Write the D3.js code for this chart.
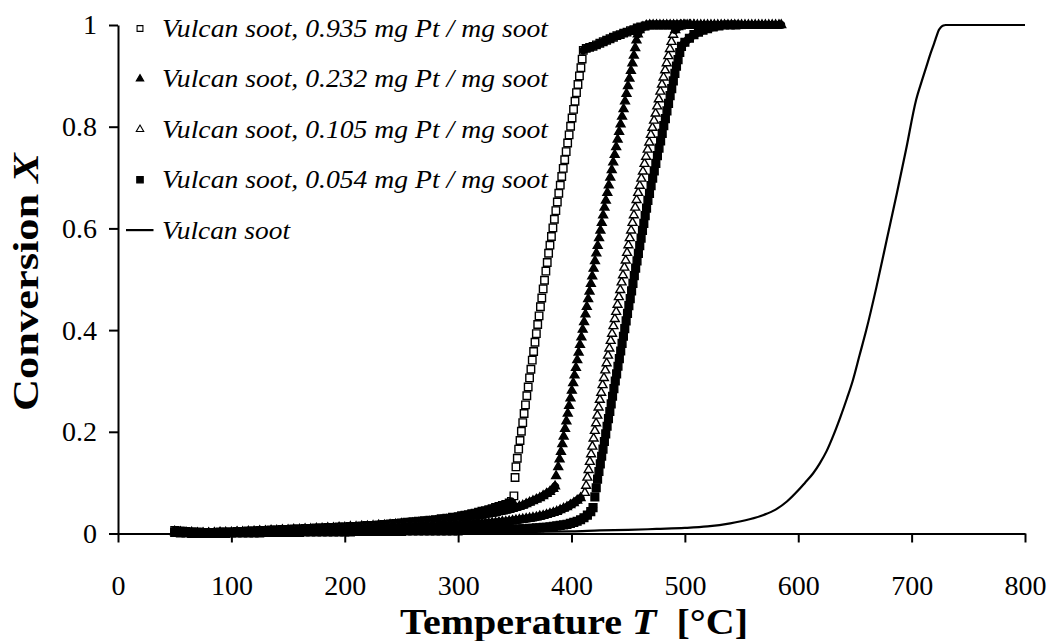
<!DOCTYPE html>
<html>
<head>
<meta charset="utf-8">
<script src="https://cdn.jsdelivr.net/npm/d3@7"></script>
<style>
  body { margin: 0; background: #fff; }
  svg text { font-family: "Liberation Serif", "Times New Roman", serif; fill: #000; }
</style>
</head>
<body>
<div id="chart"></div>
<script>
/*
 * Data: [T in degC, conversion X]
 */

// Vulcan soot, 0.935 mg Pt / mg soot (open squares)
var pt935 = [[50,.006],[55,.005],[60,.004],[65,.003],[70,.003],[75,.002],[80,.002],[85,.002],[90,.003],[95,.003],
  [100,.003],[105,.004],[110,.004],[115,.005],[120,.005],[125,.006],[130,.006],[135,.007],[140,.007],[145,.008],
  [150,.008],[155,.009],[160,.009],[165,.010],[170,.010],[175,.011],[180,.011],[185,.012],[190,.012],[195,.013],
  [200,.013],[205,.014],[210,.014],[215,.015],[220,.016],[225,.016],[230,.017],[235,.018],[240,.019],[245,.020],
  [250,.021],[255,.022],[260,.023],[265,.024],[270,.025],[275,.026],[280,.027],[285,.029],[290,.030],[295,.032],
  [300,.033],[303,.035],[306,.036],[309,.037],[312,.039],[315,.040],[318,.042],[321,.044],[324,.045],[327,.047],
  [330,.049],[333,.051],[336,.053],[339,.055],[342,.057],[345,.060],[347,.063],
  [349.2,.074],[350.2,.110],[351.0,.131],[352.2,.148],[353.4,.166],[354.6,.183],[355.8,.201],[357.0,.218],[358.2,.236],
  [359.4,.253],[360.6,.271],[361.8,.288],[363.0,.306],[364.2,.323],[365.4,.341],[366.6,.358],[367.8,.376],[369.0,.393],
  [370.2,.411],[371.4,.428],[372.6,.446],[373.8,.463],[375.0,.481],[376.2,.498],[377.4,.516],[378.6,.533],[379.8,.551],
  [381.0,.567],[382.3,.584],[383.6,.601],[384.9,.618],[386.2,.635],[387.5,.652],[388.8,.669],[390.1,.685],[391.4,.702],
  [392.7,.718],[394.0,.735],[395.3,.751],[396.6,.768],[397.9,.784],[399.2,.801],[400.5,.817],[401.8,.834],[403.1,.850],
  [404.4,.867],[405.7,.883],[407.0,.900],[408.3,.916],[409.4,.933],[410.4,.950],
  [413,.954],[416,.956],[419,.958],[422,.961],[425,.964],[428,.967],[431,.970],[434,.973],[437,.976],[440,.979],
  [443,.981],[446,.984],[449,.986],[452,.989],[455,.991],[458,.994],[461,.996],[465,.998],[469,1],[473,1],
  [477,1],[481,1],[485,1],[489,1],[493,1],[497,1]];

// Vulcan soot, 0.232 mg Pt / mg soot (filled triangles)
var pt232 = [[50,.004],[55,.003],[60,.002],[65,.002],[70,.001],[75,.001],[80,.001],[85,.001],[90,.002],[95,.002],
  [100,.002],[105,.003],[110,.003],[115,.004],[120,.004],[125,.005],[130,.005],[135,.006],[140,.006],[145,.007],
  [150,.007],[155,.008],[160,.008],[165,.009],[170,.009],[175,.010],[180,.010],[185,.011],[190,.011],[195,.012],
  [200,.012],[205,.013],[210,.013],[215,.014],[220,.014],[225,.015],[230,.016],[235,.016],[240,.017],[245,.018],
  [250,.019],[255,.019],[260,.020],[265,.021],[270,.022],[275,.023],[280,.024],[285,.025],[290,.027],[295,.028],
  [300,.029],[303,.030],[306,.031],[309,.032],[312,.033],[315,.034],[318,.035],[321,.036],[324,.038],[327,.039],
  [330,.040],[333,.041],[336,.043],[339,.044],[342,.046],[345,.047],[348,.049],[351,.051],[354,.053],[357,.055],
  [360,.058],[363,.061],[366,.064],[369,.067],[372,.070],[375,.074],[378,.078],[381,.082],[384,.088],[385.5,.093],
  [386.4,.113],[388.3,.131],[389.5,.146],[390.7,.161],[391.9,.176],[393.1,.191],[394.3,.206],[395.5,.221],[396.7,.236],
  [397.9,.251],[399.1,.266],[400.3,.281],[401.5,.296],[402.7,.311],[403.9,.326],[405.1,.341],[406.3,.356],[407.5,.371],
  [408.7,.386],[409.9,.401],[411.1,.416],[412.3,.431],[413.5,.446],[414.7,.461],[415.9,.476],[417.1,.491],[418.3,.506],
  [419.5,.521],[420.7,.536],[421.9,.551],[423.1,.566],[424.3,.581],[425.5,.596],[426.7,.611],[427.9,.626],[429.1,.641],
  [430.3,.655],[431.6,.670],[432.9,.685],[434.2,.700],[435.5,.715],[436.8,.730],[438.1,.745],[439.4,.760],[440.7,.775],
  [442.0,.790],[443.3,.805],[444.6,.820],[445.9,.835],[447.2,.850],[448.5,.865],[449.8,.880],[451.1,.895],[452.4,.910],
  [453.7,.925],[455.0,.940],[456.2,.955],[457.3,.970],[458.5,.982],[460,.990],[463,.996],[466,.999],
  [469,1],[472,1],[475,1],[478,1],[481,1],[484,1],[487,1],[490,1],[493,1],[496,1],[499,1],[502,1],[505,1],
  [508,1],[511,1],[514,1],[517,1],[520,1],[523,1],[526,1],[529,1],[532,1],[535,1],[538,1],[541,1],[544,1],
  [547,1],[550,1],[553,1],[556,1],[559,1],[562,1],[565,1],[568,1],[571,1],[574,1],[577,1],[580,1],[583,1],[585,1]];

// Vulcan soot, 0.105 mg Pt / mg soot (open triangles)
var pt105 = [[50,.003],[55,.002],[60,.001],[65,.001],[70,.000],[75,.000],[80,.000],[85,.001],[90,.001],[95,.001],
  [100,.001],[105,.002],[110,.002],[115,.002],[120,.003],[125,.003],[130,.003],[135,.004],[140,.004],[145,.004],
  [150,.005],[155,.005],[160,.005],[165,.006],[170,.006],[175,.006],[180,.007],[185,.007],[190,.007],[195,.008],
  [200,.008],[205,.008],[210,.009],[215,.009],[220,.009],[225,.010],[230,.010],[235,.010],[240,.011],[245,.011],
  [250,.011],[255,.012],[260,.012],[265,.013],[270,.013],[275,.014],[280,.014],[285,.015],[290,.015],[295,.016],
  [300,.016],[303,.016],[306,.017],[309,.017],[312,.018],[315,.018],[318,.019],[321,.019],[324,.020],[327,.020],
  [330,.021],[333,.021],[336,.022],[339,.023],[342,.023],[345,.024],[348,.025],[351,.026],[354,.027],[357,.028],
  [360,.029],[363,.030],[366,.031],[369,.032],[372,.034],[375,.035],[378,.037],[381,.039],[384,.041],[387,.043],
  [390,.046],[393,.049],[396,.052],[399,.056],[402,.060],[405,.065],[408,.070],
  [411.8,.080],[412.9,.094],[414.0,.110],[415.1,.125],[416.2,.141],[417.3,.156],[418.4,.171],[419.5,.187],[420.6,.202],
  [421.7,.217],[422.8,.232],[423.9,.248],[425.0,.263],[426.2,.277],[427.4,.292],[428.6,.306],[429.8,.321],[431.0,.335],
  [432.2,.350],[433.4,.364],[434.6,.379],[435.8,.393],[437.0,.408],[438.2,.422],[439.4,.436],[440.6,.450],[441.8,.465],
  [443.0,.479],[444.2,.494],[445.4,.508],[446.6,.523],[447.8,.537],[449.0,.552],[450.2,.567],[451.4,.581],[452.6,.596],
  [453.8,.611],[455.0,.626],[456.2,.641],[457.4,.656],[458.8,.670],[460.2,.684],[461.6,.698],[463.0,.712],[464.4,.727],
  [465.8,.741],[467.2,.755],[468.6,.769],[470.0,.784],[471.4,.798],[472.8,.812],[474.2,.826],[475.6,.840],[477.0,.854],
  [478.4,.869],[479.8,.883],[481.2,.897],[482.6,.911],[484.0,.925],[485.4,.939],[486.8,.953],[488.2,.967],[489.7,.981],
  [491.5,.990],[494,.996],[497,.999],[500,1],[504,1],[508,1]];

// Vulcan soot, 0.054 mg Pt / mg soot (filled squares)
var pt054 = [[50,.002],[55,.001],[60,.001],[65,.000],[70,.000],[75,.000],[80,.000],[85,.000],[90,.000],[95,.000],
  [100,.001],[105,.001],[110,.001],[115,.001],[120,.001],[125,.001],[130,.002],[135,.002],[140,.002],[145,.002],
  [150,.002],[155,.002],[160,.002],[165,.003],[170,.003],[175,.003],[180,.003],[185,.003],[190,.003],[195,.003],
  [200,.003],[205,.003],[210,.004],[215,.004],[220,.004],[225,.004],[230,.004],[235,.004],[240,.004],[245,.004],
  [250,.004],[255,.005],[260,.005],[265,.005],[270,.005],[275,.005],[280,.005],[285,.005],[290,.005],[295,.005],
  [300,.005],[303,.006],[306,.006],[309,.006],[312,.006],[315,.006],[318,.006],[321,.006],[324,.007],[327,.007],
  [330,.007],[333,.007],[336,.007],[339,.007],[342,.008],[345,.008],[348,.008],[351,.008],[354,.009],[357,.009],
  [360,.009],[363,.010],[366,.010],[369,.011],[372,.011],[375,.012],[378,.012],[381,.013],[384,.014],[387,.015],
  [390,.016],[393,.017],[396,.018],[399,.020],[402,.022],[405,.024],[408,.027],[411,.031],[414,.036],[417,.043],[419,.051],
  [420.6,.072],[421.8,.090],[423.0,.107],[424.2,.122],[425.4,.137],[426.6,.152],[427.8,.166],[429.0,.181],[430.2,.196],
  [431.4,.211],[432.6,.226],[433.8,.240],[435.0,.255],[436.2,.270],[437.4,.285],[438.6,.300],[439.8,.314],[441.0,.329],
  [442.2,.344],[443.4,.359],[444.6,.374],[445.8,.388],[447.0,.403],[448.2,.418],[449.4,.433],[450.6,.448],[451.8,.462],
  [453.0,.477],[454.2,.492],[455.4,.507],[456.6,.522],[457.8,.536],[459.0,.551],[460.2,.566],[461.4,.581],[462.6,.596],
  [463.8,.610],[465.0,.625],[466.2,.640],[467.4,.655],[468.8,.669],[470.2,.684],[471.6,.699],[473.0,.713],[474.4,.728],
  [475.8,.743],[477.2,.758],[478.6,.772],[480.0,.787],[481.4,.802],[482.8,.816],[484.2,.831],[485.6,.846],[487.0,.861],
  [488.4,.875],[489.8,.890],[491.2,.905],[492.6,.919],[494.0,.932],[495.5,.946],[497.0,.958],
  [500,.966],[504,.974],[508,.981],[512,.986],[516,.990],[520,.993],[525,.996],[530,.998],[535,1],[540,1],[545,1]];

// Vulcan soot, no Pt (solid line)
var sootOnly = [[50,.000],[100,.000],[150,.001],[200,.001],[250,.002],[300,.002],[350,.003],[400,.004],[425,.006],
  [450,.007],[475,.009],[500,.011],[520,.014],[540,.020],[557,.028],[570,.037],[580,.047],[590,.063],[600,.085],
  [606,.100],[613,.118],[619,.138],[625,.162],[631,.193],[637,.228],[643,.266],[648,.300],[654,.350],[660,.400],
  [669,.485],[678,.577],[687,.669],[695,.754],[704,.853],[709,.890],[713,.918],[717,.946],[720,.965],[722,.978],
  [724,.990],[726,.996],[728,.999],[730,1],[800,1]];

var xTicks = [0, 100, 200, 300, 400, 500, 600, 700, 800];
var yTicks = [0, 0.2, 0.4, 0.6, 0.8, 1];
var legendLabels = ["Vulcan soot, 0.935 mg Pt / mg soot", "Vulcan soot, 0.232 mg Pt / mg soot",
  "Vulcan soot, 0.105 mg Pt / mg soot", "Vulcan soot, 0.054 mg Pt / mg soot", "Vulcan soot"];

/*
 * Chart
 */
var svgWidth = 1048;
var svgHeight = 641;
var plotLeft = 118, plotRight = 1025, plotTop = 25, plotBottom = 533.5;

var svg = d3.select("#chart")
  .append("svg")
  .attr("width", svgWidth)
  .attr("height", svgHeight);

var x = d3.scaleLinear().domain([0, 800]).range([plotLeft, plotRight]);
var y = d3.scaleLinear().domain([0, 1]).range([plotBottom, plotTop]);

// marker styles per series
var series = [
  { data: pt935, shape: d3.symbolSquare, size: 56, fill: "#fff" },
  { data: pt232, shape: d3.symbolTriangle, size: 34, fill: "#000" },
  { data: pt105, shape: d3.symbolTriangle, size: 34, fill: "#fff" },
  { data: pt054, shape: d3.symbolSquare, size: 60, fill: "#000" }
];

var plot = svg.append("g");

series.forEach(function(s) {
  var g = plot.append("g");
  g.selectAll("path")
    .data(s.data)
    .enter().append("path")
    .attr("d", d3.symbol().type(s.shape).size(s.size))
    .attr("transform", function(d) { return "translate(" + x(d[0]) + "," + y(d[1]) + ")"; })
    .attr("fill", s.fill)
    .attr("stroke", "#000")
    .attr("stroke-width", 1.4);

  // where the readings sit closer than a marker the points merge into a solid band
  var pieces = [];
  for (var i = 1; i < s.data.length; i++) {
    var a = s.data[i-1], b = s.data[i];
    if (Math.abs(x(b[0]) - x(a[0])) < 6.5 && Math.abs(y(b[1]) - y(a[1])) < 4.5) {
      pieces.push([a, b]);
    }
  }
  g.selectAll("line.band")
    .data(pieces)
    .enter().append("line")
    .attr("class", "band")
    .attr("x1", function(d) { return x(d[0][0]); })
    .attr("y1", function(d) { return y(d[0][1]); })
    .attr("x2", function(d) { return x(d[1][0]); })
    .attr("y2", function(d) { return y(d[1][1]); })
    .attr("stroke", "#000")
    .attr("stroke-width", 8)
    .attr("stroke-linecap", "round");
});

var line = d3.line()
  .x(function(d) { return x(d[0]); })
  .y(function(d) { return y(d[1]); })
  .curve(d3.curveMonotoneX);

plot.append("path")
  .datum(sootOnly)
  .attr("d", line)
  .attr("fill", "none")
  .attr("stroke", "#000")
  .attr("stroke-width", 2.2);

/*
 * Axes
 */
var xAxis = svg.append("g")
  .attr("transform", "translate(0," + plotBottom + ")")
  .call(d3.axisBottom(x).tickValues(xTicks).tickSize(9).tickSizeOuter(0).tickPadding(33));

var yAxis = svg.append("g")
  .attr("transform", "translate(" + plotLeft + ",0)")
  .call(d3.axisLeft(y).tickValues(yTicks).tickSize(9).tickSizeOuter(0).tickPadding(12)
    .tickFormat(function(d) { return String(+d.toFixed(1)); }));

[xAxis, yAxis].forEach(function(ax) {
  ax.select(".domain").attr("stroke", "#000").attr("stroke-width", 2);
  ax.selectAll(".tick line").attr("stroke", "#000").attr("stroke-width", 2);
  ax.selectAll(".tick text")
    .attr("font-size", 28)
    .attr("fill", "#000");
});

// axis titles (stretched to the width they take in the picture)
var yTitle = svg.append("text")
  .attr("transform", "translate(38," + 282 + ") rotate(-90)")
  .attr("text-anchor", "middle")
  .attr("font-size", 36)
  .attr("font-weight", "bold")
  .attr("textLength", 258)
  .attr("lengthAdjust", "spacingAndGlyphs");
yTitle.append("tspan").text("Conversion ");
yTitle.append("tspan").attr("font-style", "italic").text("X");

var xTitle = svg.append("text")
  .attr("x", 574)
  .attr("y", 634)
  .attr("text-anchor", "middle")
  .attr("font-size", 35)
  .attr("font-weight", "bold")
  .attr("textLength", 348)
  .attr("lengthAdjust", "spacingAndGlyphs");
xTitle.append("tspan").text("Temperature ");
xTitle.append("tspan").attr("font-style", "italic").text("T");
xTitle.append("tspan").text("\u00a0 [°C]");

/*
 * Legend
 */
var legendX = 140, legendTop = 28.5, legendStep = 50.4;
var legendMarks = [
  { shape: d3.symbolSquare, size: 34, fill: "#fff" },
  { shape: d3.symbolTriangle, size: 24, fill: "#000" },
  { shape: d3.symbolTriangle, size: 24, fill: "#fff" },
  { shape: d3.symbolSquare, size: 42, fill: "#000" },
  null
];
var legendWidths = [386, 386, 386, 386, 128];

var legend = svg.append("g");
legendLabels.forEach(function(label, i) {
  var cy = legendTop + i * legendStep;
  var m = legendMarks[i];
  if (m) {
    legend.append("path")
      .attr("d", d3.symbol().type(m.shape).size(m.size))
      .attr("transform", "translate(" + legendX + "," + cy + ")")
      .attr("fill", m.fill)
      .attr("stroke", "#000")
      .attr("stroke-width", 1.1);
  } else {
    legend.append("line")
      .attr("x1", 126).attr("x2", 153.5)
      .attr("y1", cy).attr("y2", cy)
      .attr("stroke", "#000")
      .attr("stroke-width", 2.2);
  }
  legend.append("text")
    .attr("x", 162)
    .attr("y", cy + 8.5)
    .attr("font-size", 25)
    .attr("font-style", "italic")
    .attr("textLength", legendWidths[i])
    .attr("lengthAdjust", "spacingAndGlyphs")
    .text(label);
});
</script>
</body>
</html>
